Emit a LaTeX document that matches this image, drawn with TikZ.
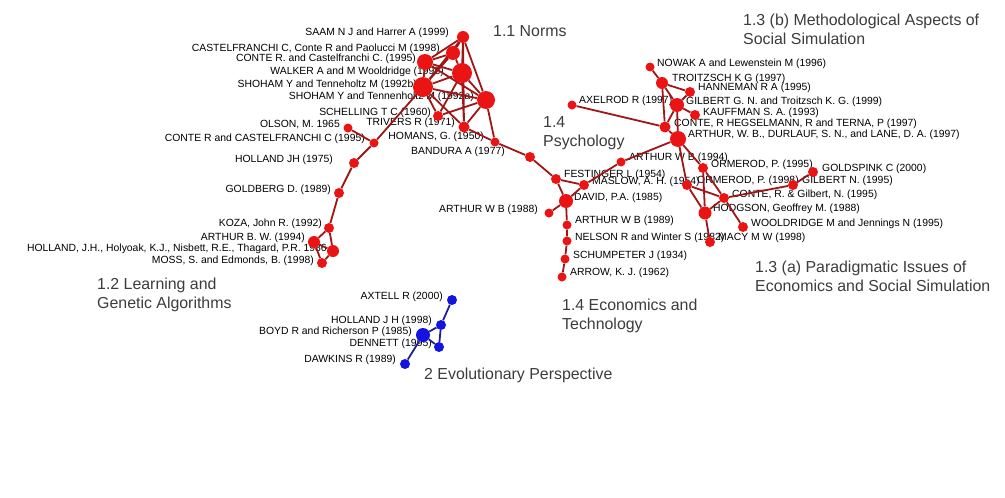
\documentclass[tikz,border=0pt]{standalone}
\usepackage{fontspec}
\setmainfont{Liberation Sans}
\usetikzlibrary{positioning}
\pgfdeclarelayer{labels}
\pgfdeclarelayer{links}
\pgfsetlayers{labels,links,main}
\definecolor{nodered}{RGB}{235,20,20}
\definecolor{linkred}{RGB}{160,22,22}
\definecolor{nodeblue}{RGB}{20,20,225}
\definecolor{linkblue}{RGB}{30,30,150}
\definecolor{areagray}{RGB}{60,60,60}

\begin{document}
\begin{tikzpicture}[
  x=1pt, y=-1pt,
  paper/.style={circle, fill=nodered, inner sep=0pt, minimum size=9pt},
  evopaper/.style={paper, fill=nodeblue},
  reftext/.style={font=\fontsize{10.4}{12}\selectfont, inner sep=0pt},
  area/.style={font=\fontsize{15.9}{19}\selectfont, text=areagray, align=left,
               inner sep=0pt, anchor=north west},
  link/.style={draw=linkred, line width=1.8pt},
  evolink/.style={draw=linkblue, line width=1.8pt}
]
\useasboundingbox (0,0) rectangle (1005,498);

% 1.1 Norms
\node[paper, minimum size=12pt] (saam) at (463,37) {};
\node[paper, minimum size=14pt] (castel98) at (453,53) {};
\node[paper, minimum size=16pt] (conte95a) at (425,62) {};
\node[paper, minimum size=20pt] (walker) at (462,73) {};
\node[paper, minimum size=20pt] (shoham92b) at (423,87) {};
\node[paper, minimum size=18pt] (shoham92a) at (486,100) {};
\node[paper, minimum size=10pt] (schelling) at (438,116) {};
\node[paper, minimum size=11pt] (trivers) at (464,127) {};
\node[paper] (homans) at (495,142) {};
\node[paper, minimum size=10pt] (bandura) at (530,157) {};

% 1.2 Learning and Genetic Algorithms
\node[paper] (conte95b) at (374,143) {};
\node[paper] (olson) at (348,128) {};
\node[paper, minimum size=10pt] (holland75) at (354,163) {};
\node[paper, minimum size=10pt] (goldberg) at (339,193) {};
\node[paper, minimum size=10pt] (koza) at (329,228) {};
\node[paper, minimum size=12pt] (arthur94bw) at (314,242) {};
\node[paper, minimum size=12pt] (holland86) at (333,251) {};
\node[paper, minimum size=10pt] (moss) at (322,263) {};

% 1.4 Psychology / Economics and Technology
\node[paper, minimum size=10pt] (festinger) at (556,179) {};
\node[paper, minimum size=10pt] (maslow) at (584,185) {};
\node[paper, minimum size=14pt] (david) at (566,201) {};
\node[paper] (arthur88) at (549,213) {};
\node[paper] (arthur89) at (567,225) {};
\node[paper] (nelson) at (567,241) {};
\node[paper] (schumpeter) at (565,259) {};
\node[paper] (arrow) at (562,277) {};
\node[paper] (arthur94) at (621,162) {};

% 1.3 (b) Methodological Aspects
\node[paper, minimum size=16pt] (arthurd) at (678,139) {};
\node[paper] (nowak) at (650,67) {};
\node[paper, minimum size=12pt] (troitzsch) at (662,83) {};
\node[paper, minimum size=10pt] (hanneman) at (690,92) {};
\node[paper, minimum size=14pt] (gilbertgn) at (677,105) {};
\node[paper, minimum size=10pt] (kauffman) at (695,115) {};
\node[paper, minimum size=11pt] (conteh) at (665,127) {};
\node[paper] (axelrod) at (572,105) {};

% 1.3 (a) Paradigmatic Issues
\node[paper, minimum size=10pt] (ormerod95) at (703,168) {};
\node[paper, minimum size=10pt] (ormerod98) at (687,185) {};
\node[paper, minimum size=10pt] (goldspink) at (813,172) {};
\node[paper, minimum size=10pt] (gilbertn) at (793,185) {};
\node[paper, minimum size=10pt] (conteg) at (724,198) {};
\node[paper, minimum size=13pt] (hodgson) at (705,213) {};
\node[paper, minimum size=10pt] (wooldridge) at (743,227) {};
\node[paper, minimum size=10pt] (macy) at (710,242) {};

% 2 Evolutionary Perspective
\node[evopaper, minimum size=10pt] (axtell) at (452,300) {};
\node[evopaper, minimum size=10pt] (holland98) at (441,325) {};
\node[evopaper, minimum size=14pt] (boyd) at (423,335) {};
\node[evopaper, minimum size=10pt] (dennett) at (439,347) {};
\node[evopaper, minimum size=10pt] (dawkins) at (405,364) {};

\begin{pgfonlayer}{links}
\draw[link] (saam) -- (castel98) (saam) -- (conte95a) (saam) -- (walker)
  (saam) -- (shoham92b) (saam) -- (shoham92a) (saam) -- (trivers)
  (castel98) -- (conte95a) (castel98) -- (walker) (castel98) -- (shoham92b)
  (conte95a) -- (walker) (conte95a) -- (shoham92b) (conte95a) -- (shoham92a)
  (walker) -- (shoham92b) (walker) -- (shoham92a) (walker) -- (schelling)
  (walker) -- (trivers) (shoham92b) -- (shoham92a) (shoham92b) -- (schelling)
  (shoham92b) -- (trivers) (shoham92a) -- (schelling) (shoham92a) -- (trivers)
  (shoham92a) -- (homans) (trivers) -- (homans) (homans) -- (bandura);
\draw[link] (shoham92b) -- (conte95b) (conte95b) -- (olson)
  (conte95b) -- (holland75) (holland75) -- (goldberg) (goldberg) -- (koza)
  (koza) -- (arthur94bw) (koza) -- (holland86) (arthur94bw) -- (holland86)
  (arthur94bw) -- (moss) (holland86) -- (moss);
\draw[link] (bandura) -- (festinger) (festinger) -- (maslow)
  (festinger) -- (david) (maslow) -- (david) (maslow) -- (arthur94)
  (arthur94) -- (arthurd) (david) -- (arthur88) (david) -- (arthur89)
  (arthur89) -- (nelson) (nelson) -- (schumpeter) (schumpeter) -- (arrow);
\draw[link] (nowak) -- (troitzsch) (troitzsch) -- (hanneman)
  (troitzsch) -- (gilbertgn) (troitzsch) -- (conteh) (hanneman) -- (gilbertgn)
  (gilbertgn) -- (kauffman) (gilbertgn) -- (conteh) (gilbertgn) -- (arthurd)
  (conteh) -- (arthurd) (axelrod) -- (conteh);
\draw[link] (arthurd) -- (ormerod98) (arthurd) -- (ormerod95)
  (ormerod95) -- (hodgson) (ormerod95) -- (conteg) (conteg) -- (wooldridge)
  (ormerod98) -- (conteg) (ormerod98) -- (hodgson) (hodgson) -- (conteg)
  (hodgson) -- (macy) (conteg) -- (gilbertn) (gilbertn) -- (goldspink);
\draw[evolink] (axtell) -- (holland98) (holland98) -- (boyd)
  (holland98) -- (dennett) (boyd) -- (dennett) (boyd) -- (dawkins);
\end{pgfonlayer}

\begin{pgfonlayer}{labels}
\node[reftext, anchor=east] (t-saam) at (449,33) {SAAM N J and Harrer A (1999)};
\node[reftext, anchor=east] (t-castel98) at (440,49) {CASTELFRANCHI C, Conte R and Paolucci M (1998)};
\node[reftext, anchor=east] (t-conte95a) at (416,59) {CONTE R. and Castelfranchi C. (1995)};
\node[reftext, anchor=east] (t-walker) at (444,72) {WALKER A and M Wooldridge (1995)};
\node[reftext, anchor=east] (t-shoham92b) at (417,85) {SHOHAM Y and Tenneholtz M (1992b)};
\node[reftext, anchor=east] (t-shoham92a) at (474,97) {SHOHAM Y and Tennenholtz M (1992a)};
\node[reftext, anchor=east] (t-schelling) at (431,113) {SCHELLING T C (1960)};
\node[reftext, anchor=east] (t-trivers) at (455,123) {TRIVERS R (1971)};
\node[reftext, anchor=east] (t-homans) at (484,137) {HOMANS, G. (1950)};
\node[reftext, anchor=east] (t-bandura) at (505,152) {BANDURA A (1977)};
\node[reftext, anchor=east] (t-olson) at (340,125) {OLSON, M. 1965};
\node[reftext, anchor=east] (t-conte95b) at (365,139) {CONTE R and CASTELFRANCHI C (1995)};
\node[reftext, anchor=east] (t-holland75) at (333,160) {HOLLAND JH (1975)};
\node[reftext, anchor=east] (t-goldberg) at (331,190) {GOLDBERG D. (1989)};
\node[reftext, anchor=east] (t-koza) at (322,224) {KOZA, John R. (1992)};
\node[reftext, anchor=east] (t-arthur94bw) at (305,238) {ARTHUR B. W. (1994)};
\node[reftext, anchor=east] (t-holland86) at (327,249) {HOLLAND, J.H., Holyoak, K.J., Nisbett, R.E., Thagard, P.R. 1986};
\node[reftext, anchor=east] (t-moss) at (314,261) {MOSS, S. and Edmonds, B. (1998)};
\node[reftext, anchor=west] (t-festinger) at (564,175) {FESTINGER L (1954)};
\node[reftext, anchor=west] (t-maslow) at (592,182) {MASLOW, A. H. (1954)};
\node[reftext, anchor=west] (t-david) at (574,198) {DAVID, P.A. (1985)};
\node[reftext, anchor=east] (t-arthur88) at (538,210) {ARTHUR W B (1988)};
\node[reftext, anchor=west] (t-arthur89) at (575,221) {ARTHUR W B (1989)};
\node[reftext, anchor=west] (t-nelson) at (575,238) {NELSON R and Winter S (1982)};
\node[reftext, anchor=west] (t-schumpeter) at (573,256) {SCHUMPETER J (1934)};
\node[reftext, anchor=west] (t-arrow) at (570,273) {ARROW, K. J. (1962)};
\node[reftext, anchor=west] (t-arthur94) at (629,158) {ARTHUR W B (1994)};
\node[reftext, anchor=west] (t-nowak) at (657,64) {NOWAK A and Lewenstein M (1996)};
\node[reftext, anchor=west] (t-troitzsch) at (672,79) {TROITZSCH K G (1997)};
\node[reftext, anchor=west] (t-hanneman) at (698,88) {HANNEMAN R A (1995)};
\node[reftext, anchor=west] (t-axelrod) at (579,101) {AXELROD R (1997)};
\node[reftext, anchor=west] (t-gilbertgn) at (686,102) {GILBERT G. N. and Troitzsch K. G. (1999)};
\node[reftext, anchor=west] (t-kauffman) at (703,113) {KAUFFMAN S. A. (1993)};
\node[reftext, anchor=west] (t-conteh) at (674,124) {CONTE, R HEGSELMANN, R and TERNA, P (1997)};
\node[reftext, anchor=west] (t-arthurd) at (688,135) {ARTHUR, W. B., DURLAUF, S. N., and LANE, D. A. (1997)};
\node[reftext, anchor=west] (t-ormerod95) at (711,165) {ORMEROD, P. (1995)};
\node[reftext, anchor=west] (t-goldspink) at (822,169) {GOLDSPINK C (2000)};
\node[reftext, anchor=west] (t-ormerod98) at (697,181) {ORMEROD, P. (1998)};
\node[reftext, anchor=west] (t-gilbertn) at (802,181) {GILBERT N. (1995)};
\node[reftext, anchor=west] (t-conteg) at (732,195) {CONTE, R. \& Gilbert, N. (1995)};
\node[reftext, anchor=west] (t-hodgson) at (713,209) {HODGSON, Geoffrey M. (1988)};
\node[reftext, anchor=west] (t-wooldridge) at (751,224) {WOOLDRIDGE M and Jennings N (1995)};
\node[reftext, anchor=west] (t-macy) at (718,238) {MACY M W (1998)};
\node[reftext, anchor=east] (t-axtell) at (443,297) {AXTELL R (2000)};
\node[reftext, anchor=east] (t-holland98) at (432,321) {HOLLAND J H (1998)};
\node[reftext, anchor=east] (t-boyd) at (412,332) {BOYD R and Richerson P (1985)};
\node[reftext, anchor=east] (t-dennett) at (432,344) {DENNETT (1995)};
\node[reftext, anchor=east] (t-dawkins) at (396,360) {DAWKINS R (1989)};

\node[area] (norms) at (493,25) {1.1 Norms};
\node[area] (method) at (743,14) {1.3 (b) Methodological Aspects of\\Social Simulation};
\node[area] (psych) at (543,116) {1.4\\Psychology};
\node[area] (learning) at (97,278) {1.2 Learning and\\Genetic Algorithms};
\node[area] (econ) at (562,299) {1.4 Economics and\\Technology};
\node[area] (paradigm) at (755,261) {1.3 (a) Paradigmatic Issues of\\Economics and Social Simulation};
\node[area] (evolution) at (424,368) {2 Evolutionary Perspective};
\end{pgfonlayer}
\end{tikzpicture}
\end{document}
